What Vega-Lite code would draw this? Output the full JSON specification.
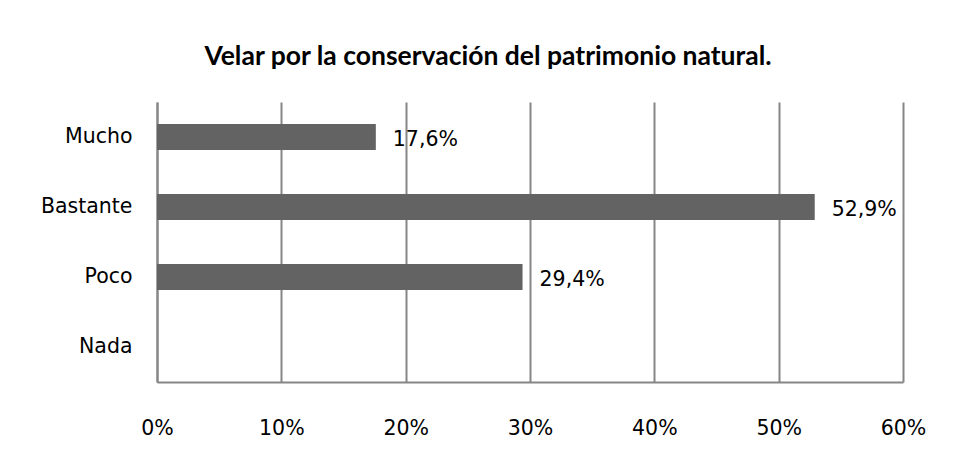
{
  "$schema": "https://vega.github.io/schema/vega-lite/v6.json",
  "width": 746,
  "height": 280,
  "autosize": {"type": "none"},
  "padding": {"left": 157, "top": 102, "right": 53, "bottom": 77},
  "background": "white",
  "config": {
    "locale": {"number": {"decimal": ",", "thousands": ".", "grouping": [3], "currency": ["", " €"]}},
    "view": {"stroke": null},
    "font": "DejaVu Sans"
  },
  "title": {
    "text": "Velar por la conservación del patrimonio natural.",
    "font": "Lato",
    "fontSize": 26.5,
    "fontWeight": "bold",
    "color": "#000000",
    "anchor": "middle",
    "dx": -42,
    "baseline": "alphabetic",
    "offset": 11
  },
  "data": {
    "values": [
      {"respuesta": "Mucho", "porcentaje": 0.176},
      {"respuesta": "Bastante", "porcentaje": 0.529},
      {"respuesta": "Poco", "porcentaje": 0.294}
    ]
  },
  "encoding": {
    "y": {
      "field": "respuesta",
      "type": "nominal",
      "scale": {"domain": ["Mucho", "Bastante", "Poco", "Nada"], "paddingInner": 0.63, "paddingOuter": 0.315},
      "axis": {
        "title": null,
        "ticks": false,
        "domain": true,
        "domainColor": "#868686",
        "domainWidth": 2,
        "labelFont": "DejaVu Sans",
        "labelFontSize": 20.5,
        "labelColor": "#000000",
        "labelPadding": 25
      }
    },
    "x": {
      "field": "porcentaje",
      "type": "quantitative",
      "scale": {"domain": [0, 0.6], "nice": false},
      "axis": {
        "title": null,
        "values": [0, 0.1, 0.2, 0.3, 0.4, 0.5, 0.6],
        "format": ".0%",
        "ticks": false,
        "grid": true,
        "gridColor": "#868686",
        "gridWidth": 2,
        "domainColor": "#868686",
        "domainWidth": 2,
        "labelFont": "DejaVu Sans",
        "labelFontSize": 20.5,
        "labelColor": "#000000",
        "labelPadding": 36,
        "labelFlush": false
      }
    }
  },
  "layer": [
    {"mark": {"type": "bar", "color": "#636363"}},
    {
      "mark": {"type": "text", "align": "left", "baseline": "middle", "dx": 17, "dy": 3, "font": "DejaVu Sans", "fontSize": 20.5, "color": "#000000"},
      "encoding": {"text": {"field": "porcentaje", "type": "quantitative", "format": ".1%"}}
    }
  ]
}
